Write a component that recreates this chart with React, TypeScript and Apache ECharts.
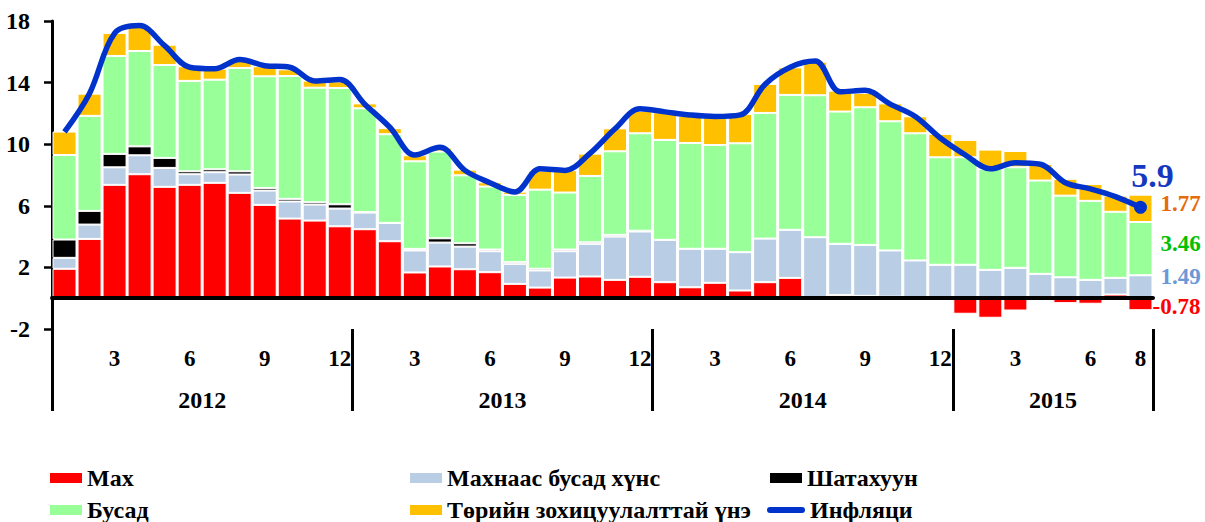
import React, { useEffect, useRef } from "react";
import * as echarts from "echarts";

const years = ["2012", "2013", "2014", "2015"];
const monthsPerYear = [12, 12, 12, 8];
const labeledMonths = [3, 6, 9, 12];

const meat = [
  1.91, 3.85, 7.36, 8.05, 7.23, 7.36, 7.49, 6.84, 6.06, 5.17, 5.04, 4.67,
  4.48, 3.7, 1.67, 2.06, 1.88, 1.69, 0.93, 0.69, 1.34, 1.41, 1.19, 1.39,
  1.04, 0.71, 1.0, 0.5, 1.04, 1.32, 0.0, 0.2, 0.15, 0.1, 0.07, 0.0,
  -1.01, -1.27, -0.8, 0.0, -0.32, -0.36, 0.24, -0.78,
];
const otherFood = [
  0.71, 0.93, 1.14, 1.23, 1.23, 0.69, 0.69, 1.19, 0.93, 1.11, 1.04, 1.15,
  1.08, 1.19, 1.43, 1.55, 1.47, 1.36, 1.3, 1.11, 1.71, 2.12, 2.81, 2.94,
  2.75, 2.5, 2.21, 2.49, 2.83, 3.12, 3.96, 3.33, 3.31, 3.0, 2.38, 2.17,
  2.17, 1.84, 1.97, 1.58, 1.36, 1.19, 1.08, 1.49,
];
const fuel = [
  1.19, 0.89, 0.87, 0.58, 0.65, 0.19, 0.19, 0.21, 0.17, 0.17, 0.15, 0.28,
  0.03, 0.0, 0.1, 0.28, 0.22, 0.11, 0.11, 0.11, 0.11, 0.1, 0.11, 0.05,
  0, 0, 0, 0, 0, 0, 0, 0, 0, 0, 0, 0,
  0, 0, 0, 0, 0, 0, 0, 0,
];
const other = [
  5.49, 6.17, 6.36, 6.19, 6.03, 5.87, 5.82, 6.71, 7.25, 7.98, 7.44, 7.55,
  6.74, 5.76, 5.69, 5.63, 4.41, 4.09, 4.37, 5.14, 3.7, 4.31, 5.43, 6.33,
  6.49, 6.87, 6.74, 7.07, 8.16, 8.76, 9.22, 8.59, 8.94, 8.39, 8.26, 6.98,
  6.98, 6.56, 6.53, 6.06, 5.3, 5.13, 4.29, 3.46,
];
const regulated = [
  1.52, 1.44, 1.49, 1.58, 1.32, 0.95, 0.72, 0.48, 0.65, 0.43, 0.46, 0.43,
  0.32, 0.39, 0.39, 0.26, 0.37, 0.28, 0.21, 1.24, 1.45, 1.45, 1.49, 1.45,
  1.79, 1.76, 1.8, 1.91, 1.88, 1.79, 2.18, 1.36, 0.93, 1.16, 1.1, 1.52,
  1.13, 1.25, 1.06, 1.08, 1.09, 1.1, 1.05, 1.77,
];
const inflation = [
  10.8, 13.3, 17.2, 17.7, 16.4, 15.0, 14.9, 15.5, 15.1, 15.0, 14.1, 14.2,
  12.6, 11.1, 9.3, 9.8, 8.3, 7.5, 6.9, 8.4, 8.3, 9.4, 11.0, 12.3,
  12.1, 11.9, 11.8, 11.9, 13.9, 15.0, 15.4, 13.4, 13.5, 12.6, 11.8, 10.4,
  9.3, 8.4, 8.8, 8.7, 7.5, 7.1, 6.6, 5.9,
];
const yTicks = [-2, 2, 6, 10, 14, 18];

const names = {
  meat: "Мах",
  otherFood: "Махнаас бусад хүнс",
  fuel: "Шатахуун",
  other: "Бусад",
  regulated: "Төрийн зохицуулалттай үнэ",
  inflation: "Инфляци",
};

const colors = {
  meat: "#ff0000",
  otherFood: "#b9cde5",
  fuel: "#000000",
  other: "#99ff99",
  regulated: "#ffc000",
  inflation: "#0033cc",
};

const labelColors = {
  meat: "#ff0000",
  otherFood: "#6b98d6",
  other: "#00c000",
  regulated: "#e46c0a",
  inflation: "#1538c0",
};

const FONT = "'Liberation Serif', 'Times New Roman', serif";

// categories built from years / months
const categories: string[] = [];
const yearStart: number[] = [];
years.forEach((y, yi) => {
  yearStart.push(categories.length);
  for (let m = 1; m <= monthsPerYear[yi]; m++) categories.push(y + "-" + m);
});
const total = categories.length;
const boundaries = [...yearStart, total];
const yearCenters = years.map((_, i) => yearStart[i] + monthsPerYear[i] / 2);

function withLastLabel(arr: number[], color: string, offset: number[], distance = 8) {
  return arr.map((v, i) =>
    i === arr.length - 1
      ? {
          value: v,
          label: {
            show: true,
            position: "right",
            distance,
            offset,
            formatter: (p: any) => Number(p.value).toFixed(2),
            color,
            fontFamily: FONT,
            fontWeight: "bold",
            fontSize: 23,
          },
        }
      : v
  );
}

function leg(name: string, left: number, top: number, icon: string, itemWidth = 32) {
  return {
    left,
    top,
    padding: 0,
    itemWidth,
    itemHeight: 10,
    selectedMode: false,
    itemStyle: { borderWidth: 0 },
    data: [{ name, icon }],
    textStyle: { fontFamily: FONT, fontWeight: "bold", fontSize: 24, color: "#000" },
  };
}

export default function App() {
  const ref = useRef<HTMLDivElement>(null);
  useEffect(() => {
    if (!ref.current) return;
    const chart = echarts.init(ref.current, null, { renderer: "svg" });
    const barBase = {
      type: "bar",
      stack: "total",
      barCategoryGap: "4%",
      xAxisIndex: 0,
      yAxisIndex: 0,
    };
    const rowTop1 = 466;
    const rowTop2 = 498;
    chart.setOption({
      animation: false,
      backgroundColor: "#ffffff",
      grid: { left: 52, right: 52, top: 21, bottom: 193, containLabel: false },
      legend: [
        leg(names.meat, 50, rowTop1, "rect"),
        leg(names.other, 50, rowTop2, "rect"),
        leg(names.otherFood, 410, rowTop1, "rect"),
        leg(names.regulated, 410, rowTop2, "rect"),
        leg(names.fuel, 770, rowTop1, "rect"),
        leg(names.inflation, 767, rowTop2, "path://M3,0H35A3,3,0,0,1,35,6H3A3,3,0,0,1,3,0Z", 38),
      ],
      xAxis: [
        {
          type: "category",
          data: categories,
          position: "bottom",
          axisLine: { onZero: true, lineStyle: { color: "#000", width: 4 } },
          axisTick: { show: false },
          axisLabel: { show: false },
          splitLine: { show: false },
          z: 5,
        },
        {
          type: "category",
          data: categories,
          position: "bottom",
          axisLine: { show: false, onZero: false },
          axisTick: { show: false },
          splitLine: { show: false },
          axisLabel: {
            interval: (i: number) => {
              const m = Number(categories[i].split("-")[1]);
              return labeledMonths.includes(m) || i === total - 1;
            },
            formatter: (v: string) => v.split("-")[1],
            margin: 18,
            fontFamily: FONT,
            fontWeight: "bold",
            fontSize: 23,
            color: "#000",
          },
        },
        {
          type: "value",
          min: 0,
          max: total,
          position: "bottom",
          axisLine: { show: false, onZero: false },
          splitLine: { show: false },
          axisTick: {
            show: true,
            customValues: boundaries,
            length: 82,
            lineStyle: { color: "#000", width: 3 },
          },
          axisLabel: {
            customValues: yearCenters,
            formatter: (v: number) => {
              const i = yearCenters.indexOf(v);
              return i >= 0 ? years[i] : "";
            },
            margin: 59,
            fontFamily: FONT,
            fontWeight: "bold",
            fontSize: 24,
            color: "#000",
          },
        },
      ],
      yAxis: {
        type: "value",
        min: -2,
        max: 18,
        axisLine: { show: true, onZero: false, lineStyle: { color: "#000", width: 3 } },
        axisTick: { show: true, customValues: yTicks, length: 8, lineStyle: { color: "#000", width: 2.5 } },
        splitLine: { show: false },
        axisLabel: {
          customValues: yTicks,
          margin: 22,
          fontFamily: FONT,
          fontWeight: "bold",
          fontSize: 24,
          color: "#000",
        },
      },
      series: [
        {
          ...barBase,
          name: names.meat,
          data: withLastLabel(meat, labelColors.meat, [0, 2], 0),
          itemStyle: { color: colors.meat, borderColor: "#fff", borderWidth: 1 },
        },
        {
          ...barBase,
          name: names.otherFood,
          data: withLastLabel(otherFood, labelColors.otherFood, [0, -10]),
          itemStyle: { color: colors.otherFood, borderColor: "#fff", borderWidth: 1 },
        },
        {
          ...barBase,
          name: names.fuel,
          data: fuel,
          itemStyle: { color: colors.fuel, borderColor: "#fff", borderWidth: 1 },
        },
        {
          ...barBase,
          name: names.other,
          data: withLastLabel(other, labelColors.other, [0, -5]),
          itemStyle: { color: colors.other, borderColor: "#fff", borderWidth: 1 },
        },
        {
          ...barBase,
          name: names.regulated,
          data: withLastLabel(regulated, labelColors.regulated, [0, -5]),
          itemStyle: { color: colors.regulated, borderColor: "#fff", borderWidth: 1 },
        },
        {
          type: "line",
          name: names.inflation,
          xAxisIndex: 0,
          yAxisIndex: 0,
          smooth: 0.35,
          showAllSymbol: true,
          symbol: (_v: any, p: any) => (p.dataIndex === inflation.length - 1 ? "circle" : "none"),
          symbolSize: 13,
          z: 10,
          lineStyle: { color: colors.inflation, width: 5.5 },
          itemStyle: { color: colors.inflation },
          data: inflation.map((v, i) =>
            i === inflation.length - 1
              ? {
                  value: v,
                  label: {
                    show: true,
                    position: "top",
                    offset: [12, -3],
                    formatter: (p: any) => String(p.value),
                    color: labelColors.inflation,
                    fontFamily: FONT,
                    fontWeight: "bold",
                    fontSize: 34,
                  },
                }
              : v
          ),
        },
      ],
    });
    return () => chart.dispose();
  }, []);
  return (
    <div
      ref={ref}
      style={{ position: "fixed", left: 0, top: 0, width: 1205, height: 522, background: "#fff" }}
    />
  );
}
